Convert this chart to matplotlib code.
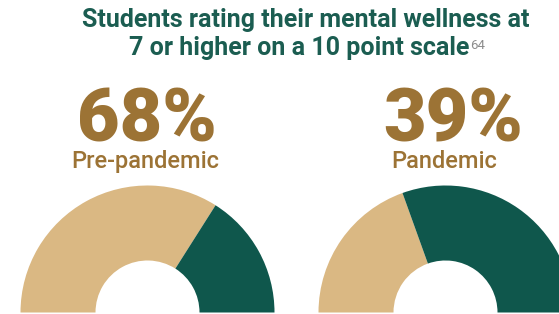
import matplotlib
matplotlib.use("Agg")
import matplotlib.pyplot as plt

# data
labels = ["Pre-pandemic", "Pandemic"]
shares = [68, 39]
title_lines = ["Students rating their mental wellness at",
               "7 or higher on a 10 point scale"]
footnote = "64"

tan = "#dab883"
green = "#0f574c"
gold = "#9c7335"
title_green = "#1b5d51"

plt.rcParams['font.family'] = ['Roboto', 'DejaVu Sans']

W, H = 559, 314
fig = plt.figure(figsize=(W / 100, H / 100), dpi=100)
ax = fig.add_axes([0, 0, 1, 1])

centers_x = [147.5, 445.5]
num_x = [147, 453]
lab_x = [145, 444]

for share, lab, cx, nx, lx in zip(shares, labels, centers_x, num_x, lab_x):
    # half donut: share + rest fill the top half, invisible bottom half
    ax.pie([share, 100 - share, 100], colors=[tan, green, "none"],
           startangle=180, counterclock=False, radius=127,
           center=(cx, H - 312.5),
           wedgeprops=dict(width=75, linewidth=0), frame=True)
    ax.text(nx, H - 141.7, f"{share}%", ha="center", va="baseline",
            fontsize=53, fontweight="heavy", color=gold)
    ax.text(lx, H - 168.3, lab, ha="center", va="baseline",
            fontsize=17, fontweight="medium", color=gold)

ax.text(306, H - 26.7, title_lines[0], ha="center", va="baseline",
        fontsize=18, fontweight="bold", color=title_green)
t2 = ax.text(298.7, H - 55, title_lines[1], ha="center", va="baseline",
             fontsize=18, fontweight="bold", color=title_green)

ax.set_xlim(0, W)
ax.set_ylim(0, H)
ax.axis("off")

# footnote marker right after the second title line
fig.canvas.draw()
bb = t2.get_window_extent()
x_end = ax.transData.inverted().transform((bb.x1, bb.y0))[0]
ax.text(x_end + 1, H - 49, footnote, ha="left", va="baseline",
        fontsize=9.5, color="#8c8c8c")

fig.savefig("out.png", dpi=100, facecolor="white")
